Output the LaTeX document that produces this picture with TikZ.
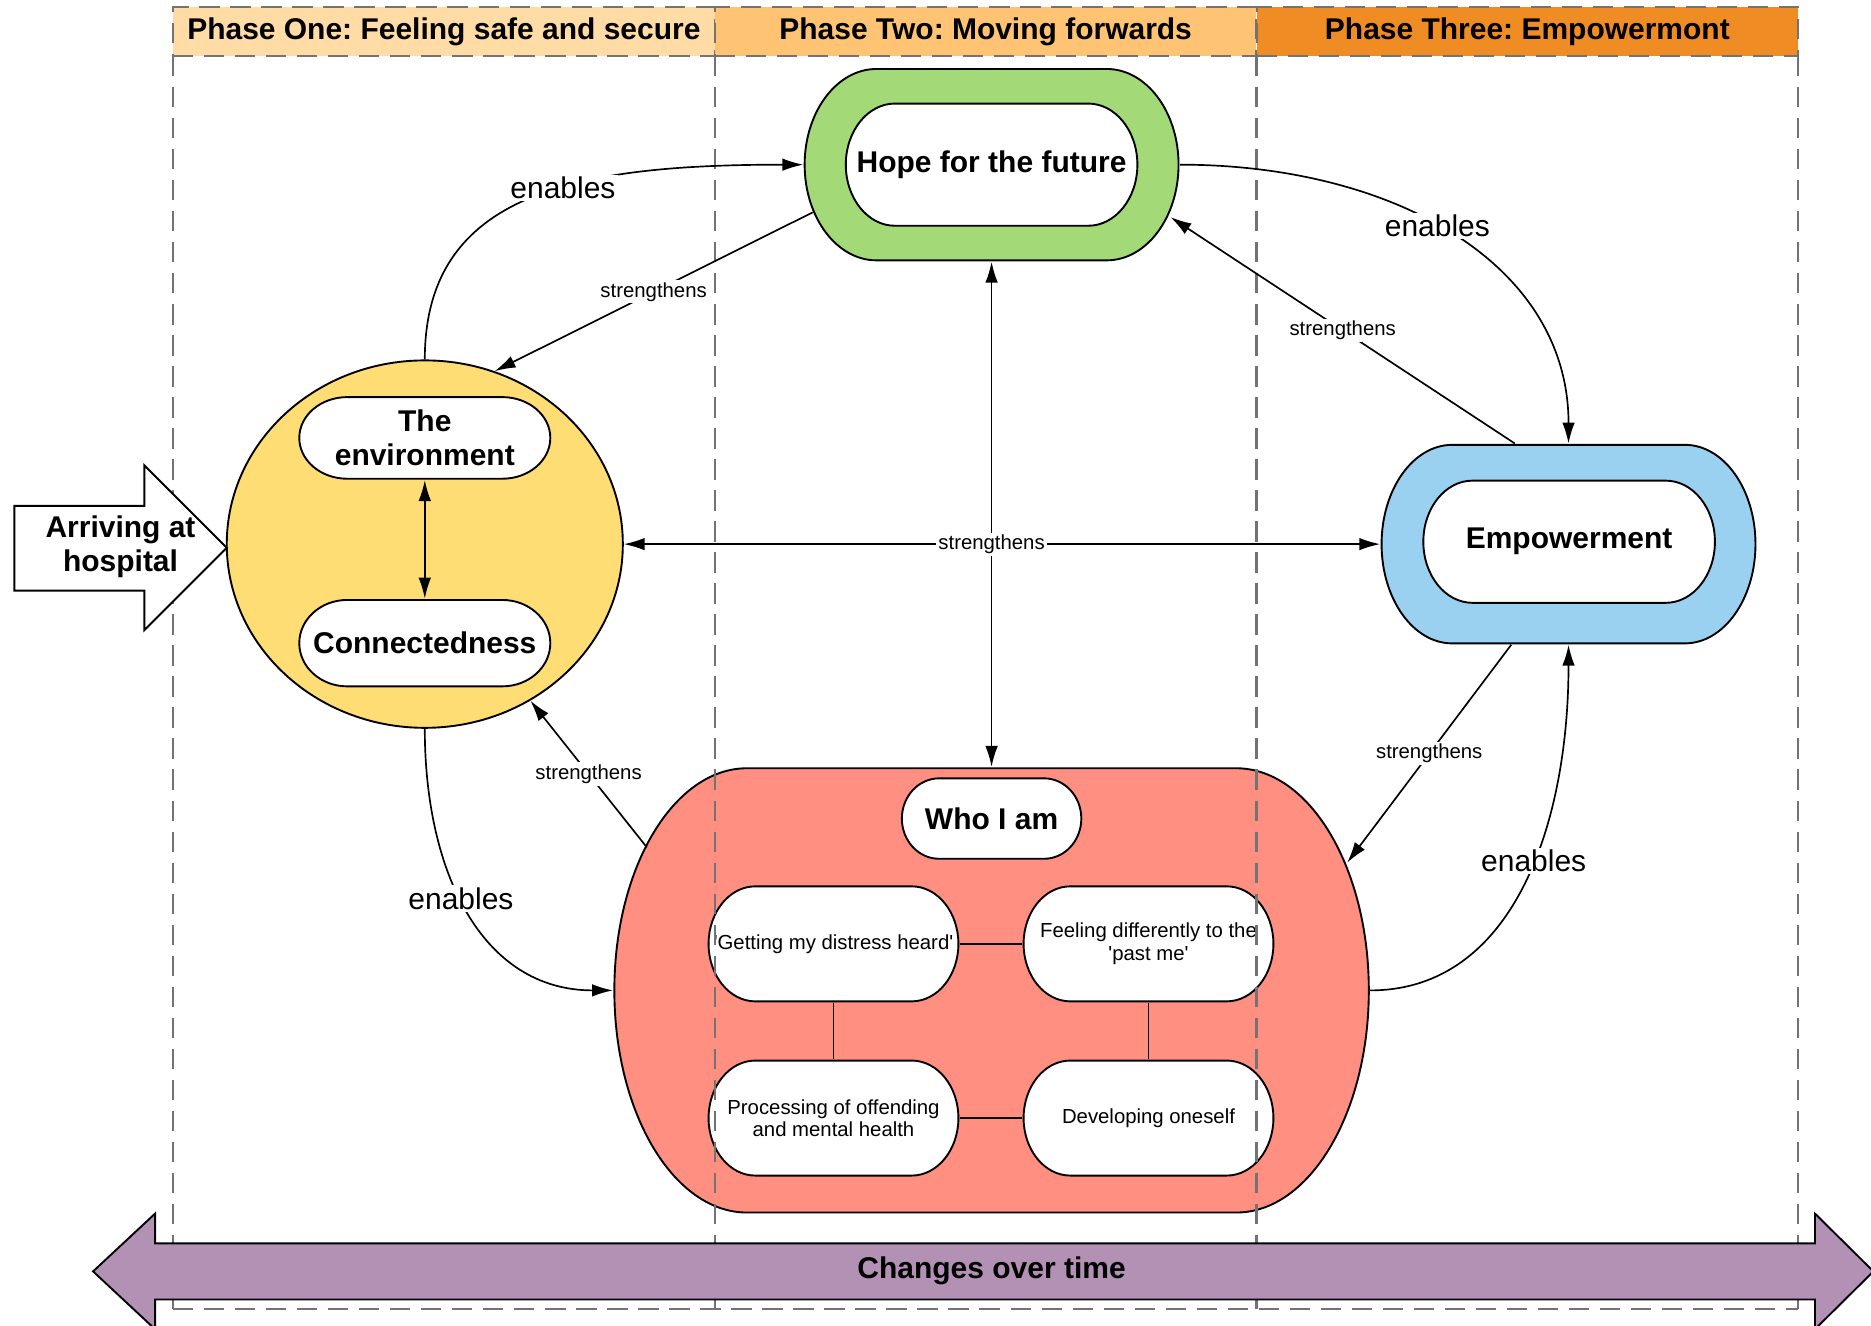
\documentclass[tikz,border=0pt]{standalone}
\usepackage{fontspec}
\setmainfont{Liberation Sans}
\frenchspacing
\usetikzlibrary{arrows.meta,positioning,shapes.geometric,calc}
\definecolor{phaseone}{RGB}{255,219,166}
\definecolor{phasetwo}{RGB}{254,196,115}
\definecolor{phasethree}{RGB}{240,140,36}
\definecolor{hopegreen}{RGB}{163,217,119}
\definecolor{safeyellow}{RGB}{255,221,117}
\definecolor{empblue}{RGB}{155,209,240}
\definecolor{whored}{RGB}{255,143,128}
\definecolor{timepurple}{RGB}{178,145,180}
\definecolor{lanegray}{RGB}{115,115,115}
\newcommand{\bigtxt}{\fontsize{14.3}{16}\selectfont}
\newcommand{\smalltxt}{\fontsize{9.7}{10.8}\selectfont}
\tikzset{
  bulge/.store in=\pillbulge, bulge=0.8cm,
  pill/.style={inner sep=0pt, align=center, path picture={
      \draw[line width=0.9pt, fill=#1]
        let \p1=(path picture bounding box.south west),
            \p2=(path picture bounding box.north east),
            \n1={(\y2-\y1)/2-0.45pt}, \n2={\pillbulge-0.45pt} in
        ({\x1+\pillbulge},{\y1+0.45pt}) -- ({\x2-\pillbulge},{\y1+0.45pt})
        arc[start angle=-90, end angle=90, x radius=\n2, y radius=\n1]
        -- ({\x1+\pillbulge},{\y2-0.45pt})
        arc[start angle=90, end angle=270, x radius=\n2, y radius=\n1]
        -- cycle;}},
  pill/.default=white,
  phasehead/.style={draw=lanegray, line width=1pt, dash pattern=on 0.34cm off 0.18cm,
                    fill=#1, minimum width=9.08cm, minimum height=0.82cm, inner sep=0pt,
                    font=\bigtxt\bfseries},
  lane/.style={draw=lanegray, line width=1pt, dash pattern=on 0.34cm off 0.18cm},
  bigarrow/.style={draw, line width=0.9pt, fill=#1},
  link/.style={line width=0.8pt, -{Latex[length=10pt,width=6pt]}},
  twolink/.style={line width=0.8pt, {Latex[length=10pt,width=6pt]}-{Latex[length=10pt,width=6pt]}},
  plain/.style={line width=0.9pt},
  lbl/.style={fill=white, inner sep=1pt, font=\bigtxt},
  slbl/.style={fill=white, inner sep=1pt, font=\smalltxt},
}
\begin{document}
\begin{tikzpicture}[x=0.02cm, y=-0.02cm]
  \useasboundingbox (0,0) rectangle (1568,1111);

  % Phase headers
  \node[phasehead=phaseone] (ph1) at (372,26.5) {Phase One: Feeling safe and secure};
  \node[phasehead=phasetwo] (ph2) at (826,26.5) {Phase Two: Moving forwards};
  \node[phasehead=phasethree] (ph3) at (1280,26.5) {Phase Three: Empowermont};

  % Who I am
  \node[pill=whored, bulge=2.24cm, minimum width=12.68cm, minimum height=7.48cm] (who) at (831,830) {};
  \node[pill, bulge=0.64cm, minimum width=3.04cm, minimum height=1.38cm, font=\bigtxt\bfseries] (whoami) at (831,686) {Who I am};
  \node[pill, minimum width=4.22cm, minimum height=1.96cm, font=\smalltxt] (heard) at (698.5,791) {\textquotesingle Getting my distress heard\textquotesingle};
  \node[pill, minimum width=4.22cm, minimum height=1.96cm, font=\smalltxt] (pastme) at (962.5,791) {Feeling differently to the\\\textquotesingle past me\textquotesingle};
  \node[pill, minimum width=4.22cm, minimum height=1.96cm, font=\smalltxt] (process) at (698.5,937) {Processing of offending\\and mental health};
  \node[pill, minimum width=4.22cm, minimum height=1.96cm, font=\smalltxt] (develop) at (962.5,937) {Developing oneself};
  \draw[plain] (heard) -- (pastme);
  \draw[plain] (process) -- (develop);
  \draw[plain] (heard) -- (process);
  \draw[plain] (pastme) -- (develop);

  % Lanes
  \foreach \x in {145,599,1053,1507}
    \draw[lane] (\x,47) -- (\x,1097);
  \draw[lane] (145,1097) -- (1507,1097);

  % Hope for the future
  \node[pill=hopegreen, bulge=1.22cm, minimum width=6.3cm, minimum height=3.24cm] (hope) at (831,138) {};
  \node[pill, bulge=0.84cm, minimum width=4.92cm, minimum height=2.08cm, font=\bigtxt\bfseries] (hopein) at (831,138) {Hope for the future};

  % Empowerment
  \node[pill=empblue, bulge=1.2cm, minimum width=6.3cm, minimum height=3.36cm] (emp) at (1314.5,456) {};
  \node[pill, bulge=0.84cm, minimum width=4.92cm, minimum height=2.08cm, font=\bigtxt\bfseries] (empin) at (1315,454) {Empowerment};

  % Feeling safe
  \node[ellipse, draw, line width=0.9pt, fill=safeyellow, minimum width=6.64cm, minimum height=6.16cm, inner sep=0pt] (safe) at (356,456) {};
  \node[pill, bulge=0.82cm, minimum width=4.24cm, minimum height=1.4cm, font=\bigtxt\bfseries] (envi) at (356,367) {The\\environment};
  \node[pill, bulge=0.82cm, minimum width=4.24cm, minimum height=1.48cm, font=\bigtxt\bfseries] (conn) at (356,539) {Connectedness};
  \draw[twolink] (envi) -- (conn);

  % Arriving
  \draw[bigarrow=white] (12,424) -- (121,424) -- (121,390) -- (190,459) -- (121,528) -- (121,495) -- (12,495) -- cycle;
  \node[font=\bigtxt\bfseries, align=center] (arrive) at (101,458) {Arriving at\\hospital};

  % Links
  \draw[link] (safe.north) .. controls +(0,-140) and +(-190,0) .. (hope.west) node[lbl, pos=0.58] {enables};
  \draw[link] ($(hope.center)+(-150,40)$) -- (safe.68) node[slbl, midway] {strengthens};
  \draw[twolink] (hope.south) -- (who.north);
  \draw[twolink] (safe.east) -- (emp.west);
  \node[slbl] (mid) at (hope.south |- safe.east) {strengthens};
  \draw[link] (hope.east) .. controls +(180,0) and +(0,-150) .. (emp.north) node[lbl, pos=0.46] {enables};
  \draw[link] ($(emp.north)+(-45,0)$) -- ($(hope.center)+(150,44)$) node[slbl, midway] {strengthens};
  \draw[link] ($(emp.south)+(-48,0)$) -- ($(who.center)+(298,-107)$) node[slbl, midway] {strengthens};
  \draw[link] (who.east) .. controls +(120,0) and +(0,150) .. (emp.south) node[lbl, pos=0.56] {enables};
  \draw[link] ($(who.center)+(-289,-120)$) -- (safe.-56) node[slbl, midway] {strengthens};
  \draw[link] (safe.south) .. controls +(0,120) and +(-110,0) .. (who.west) node[lbl, pos=0.45] {enables};

  % Changes over time
  \draw[bigarrow=timepurple] (78,1065.5) -- (130,1017) -- (130,1042) -- (1521,1042) -- (1521,1017)
    -- (1570,1065.5) -- (1521,1114) -- (1521,1089) -- (130,1089) -- (130,1114) -- cycle;
  \node[font=\bigtxt\bfseries] (time) at (831,1065) {Changes over time};
\end{tikzpicture}
\end{document}
